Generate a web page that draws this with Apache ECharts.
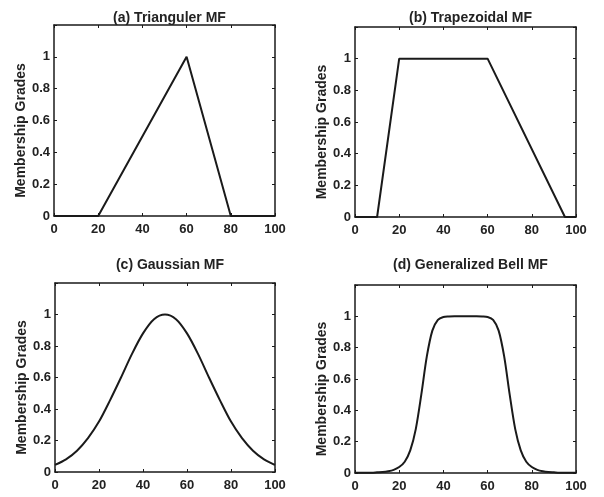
<!DOCTYPE html>
<html>
<head>
<meta charset="utf-8">
<script src="https://cdn.jsdelivr.net/npm/echarts@6/dist/echarts.min.js"></script>
<style>
html,body{margin:0;padding:0;background:#fff;}
#main{width:604px;height:497px;}
</style>
</head>
<body>
<div id="main"></div>
<script>
// ---- data ----
const titles = ['(a) Trianguler MF', '(b) Trapezoidal MF', '(c) Gaussian MF', '(d) Generalized Bell MF'];
const yName = 'Membership Grades';
const xTickStep = 20;
const yTickStep = 0.2;

const triX = [0, 20, 60, 80, 100];
const triY = [0, 0, 1, 0, 0];

const trapX = [0, 10, 20, 60, 95, 100];
const trapY = [0, 0, 1, 1, 0, 0];

const gaussX = [0, 5, 10, 15, 20, 25, 30, 35, 40, 45, 50, 55, 60, 65, 70, 75, 80, 85, 90, 95, 100];
const gaussY = [0.045, 0.08, 0.135, 0.215, 0.32, 0.455, 0.6, 0.75, 0.88, 0.97, 1.0, 0.97, 0.88, 0.75, 0.6, 0.455, 0.32, 0.215, 0.135, 0.08, 0.045];

const bellX = [0, 2.5, 5, 7.5, 10, 12.5, 15, 17.5, 20, 22.5, 25, 27.5, 30, 32.5, 35, 37.5, 40, 42.5, 45, 47.5, 50,
               52.5, 55, 57.5, 60, 62.5, 65, 67.5, 70, 72.5, 75, 77.5, 80, 82.5, 85, 87.5, 90, 92.5, 95, 97.5, 100];
const bellY = [0.001, 0.001, 0.002, 0.002, 0.004, 0.006, 0.011, 0.02, 0.038, 0.072, 0.144, 0.28, 0.5, 0.744, 0.909, 0.977, 0.996, 0.999, 1, 1, 1,
               1, 1, 0.999, 0.996, 0.977, 0.909, 0.744, 0.5, 0.28, 0.144, 0.072, 0.038, 0.02, 0.011, 0.006, 0.004, 0.002, 0.002, 0.001, 0.001];

const seriesX = [triX, trapX, gaussX, bellX];
const seriesY = [triY, trapY, gaussY, bellY];
const smoothFlags = [false, false, true, true];

// ---- layout ----
const grids = [
  {left: 54, top: 25, width: 221, height: 191},
  {left: 355, top: 27, width: 221, height: 190},
  {left: 55, top: 283, width: 220, height: 189},
  {left: 355, top: 285, width: 221, height: 188}
];
const titleTops = [6, 6, 253, 253];
const FONT = '"Liberation Sans", Arial, Helvetica, sans-serif';
const INK = '#1a1a1a';
const TXT = '#222';

const lineStyle = {color: INK, width: 1.5};
const xAxes = [], yAxes = [], series = [], titleArr = [];

grids.forEach((g, i) => {
  ['bottom', 'top'].forEach((pos, k) => {
    xAxes.push({
      gridIndex: i, type: 'value', min: 0, max: 100, interval: xTickStep, position: pos,
      axisLine: {show: true, onZero: false, lineStyle},
      axisTick: {show: true, inside: true, length: 3, lineStyle: {color: INK, width: 1}},
      axisLabel: {show: k === 0, color: TXT, fontSize: 13, fontWeight: 'bold', fontFamily: FONT, margin: 7},
      splitLine: {show: false}
    });
  });
  ['left', 'right'].forEach((pos, k) => {
    yAxes.push({
      gridIndex: i, type: 'value', min: 0, max: 1.2, interval: yTickStep, position: pos,
      name: k === 0 ? yName : '', nameLocation: 'middle', nameGap: 19,
      nameTextStyle: {color: TXT, fontSize: 14, fontWeight: 'bold', fontFamily: FONT, padding: [0, 20, 0, 0]},
      axisLine: {show: true, onZero: false, lineStyle},
      axisTick: {show: true, inside: true, length: 3, lineStyle: {color: INK, width: 1}},
      axisLabel: {show: k === 0, color: TXT, fontSize: 13, fontWeight: 'bold', fontFamily: FONT, margin: 4,
        formatter: v => (v > 1.05 ? '' : String(+v.toFixed(1)))},
      splitLine: {show: false}
    });
  });
  series.push({
    type: 'line', xAxisIndex: 2 * i, yAxisIndex: 2 * i,
    data: seriesX[i].map((x, j) => [x, seriesY[i][j]]),
    showSymbol: false, symbol: 'none',
    smooth: smoothFlags[i] ? 0.3 : false,
    lineStyle: {color: INK, width: 2}
  });
  titleArr.push({
    text: titles[i], left: g.left + g.width / 2, top: titleTops[i], textAlign: 'center',
    textStyle: {color: TXT, fontSize: 14, fontWeight: 'bold', fontFamily: FONT}
  });
});

const chart = echarts.init(document.getElementById('main'), null, {renderer: 'canvas'});
chart.setOption({
  animation: false,
  backgroundColor: '#fff',
  title: titleArr,
  grid: grids.map(g => Object.assign({show: false}, g)),
  xAxis: xAxes,
  yAxis: yAxes,
  series: series
});
</script>
</body>
</html>
